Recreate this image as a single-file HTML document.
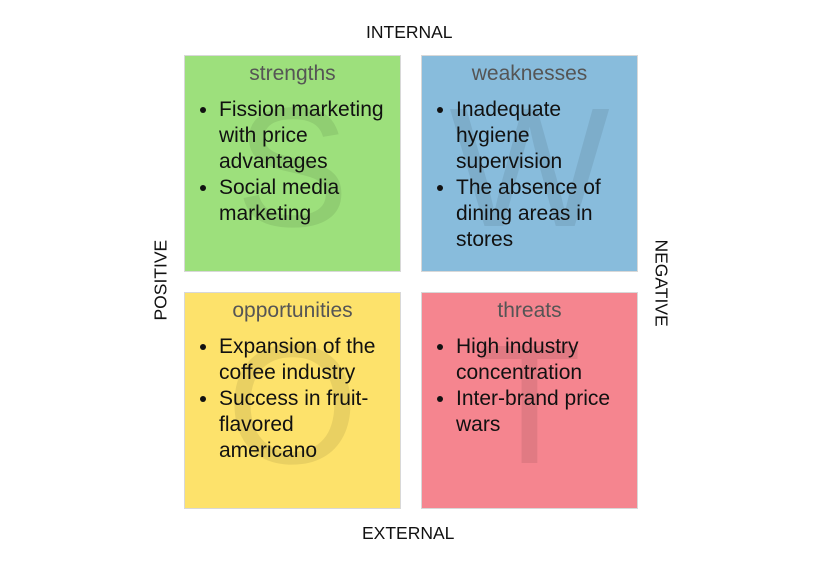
<!DOCTYPE html>
<html><head><style>
body{margin:0;width:833px;height:568px;background:#fff;position:relative;overflow:hidden;font-family:"Liberation Sans",Arial,sans-serif}
.b{position:absolute;width:215px;height:215px;border:1px solid #d8d8d8;overflow:hidden}
.big{position:absolute;left:0;width:100%;text-align:center;font-size:170px;line-height:1;top:27px;color:rgba(0,0,0,0.08)}
.t{position:absolute;top:6px;width:100%;text-align:center;font-size:21px;color:#555}
ul{position:absolute;top:41px;left:0;margin:0;padding:0 0 0 34px;font-size:21px;line-height:26px;color:#111;width:176px}
.lab{position:absolute;font-size:17.5px;color:#111}
</style></head><body>
<div class="lab" style="left:366px;top:22px">INTERNAL</div>
<div class="lab" style="left:362px;top:523px">EXTERNAL</div>
<div class="lab" style="left:122px;top:271px;width:78px;text-align:center;transform:rotate(-90deg)">POSITIVE</div>
<div class="lab" style="left:619px;top:271px;width:84px;text-align:center;transform:rotate(90deg)">NEGATIVE</div>
<div class="b" style="left:184px;top:55px;background:#9de07c"><div class="big">S</div><div class="t">strengths</div><ul><li>Fission marketing with price advantages</li><li>Social media marketing</li></ul></div>
<div class="b" style="left:421px;top:55px;background:#88bcdc"><div class="big">W</div><div class="t">weaknesses</div><ul><li>Inadequate hygiene supervision</li><li>The absence of dining areas in stores</li></ul></div>
<div class="b" style="left:184px;top:292px;background:#fde26b"><div class="big">O</div><div class="t">opportunities</div><ul><li>Expansion of the coffee industry</li><li>Success in fruit-flavored americano</li></ul></div>
<div class="b" style="left:421px;top:292px;background:#f5858f"><div class="big">T</div><div class="t">threats</div><ul><li>High industry concentration</li><li>Inter-brand price wars</li></ul></div>
</body></html>
